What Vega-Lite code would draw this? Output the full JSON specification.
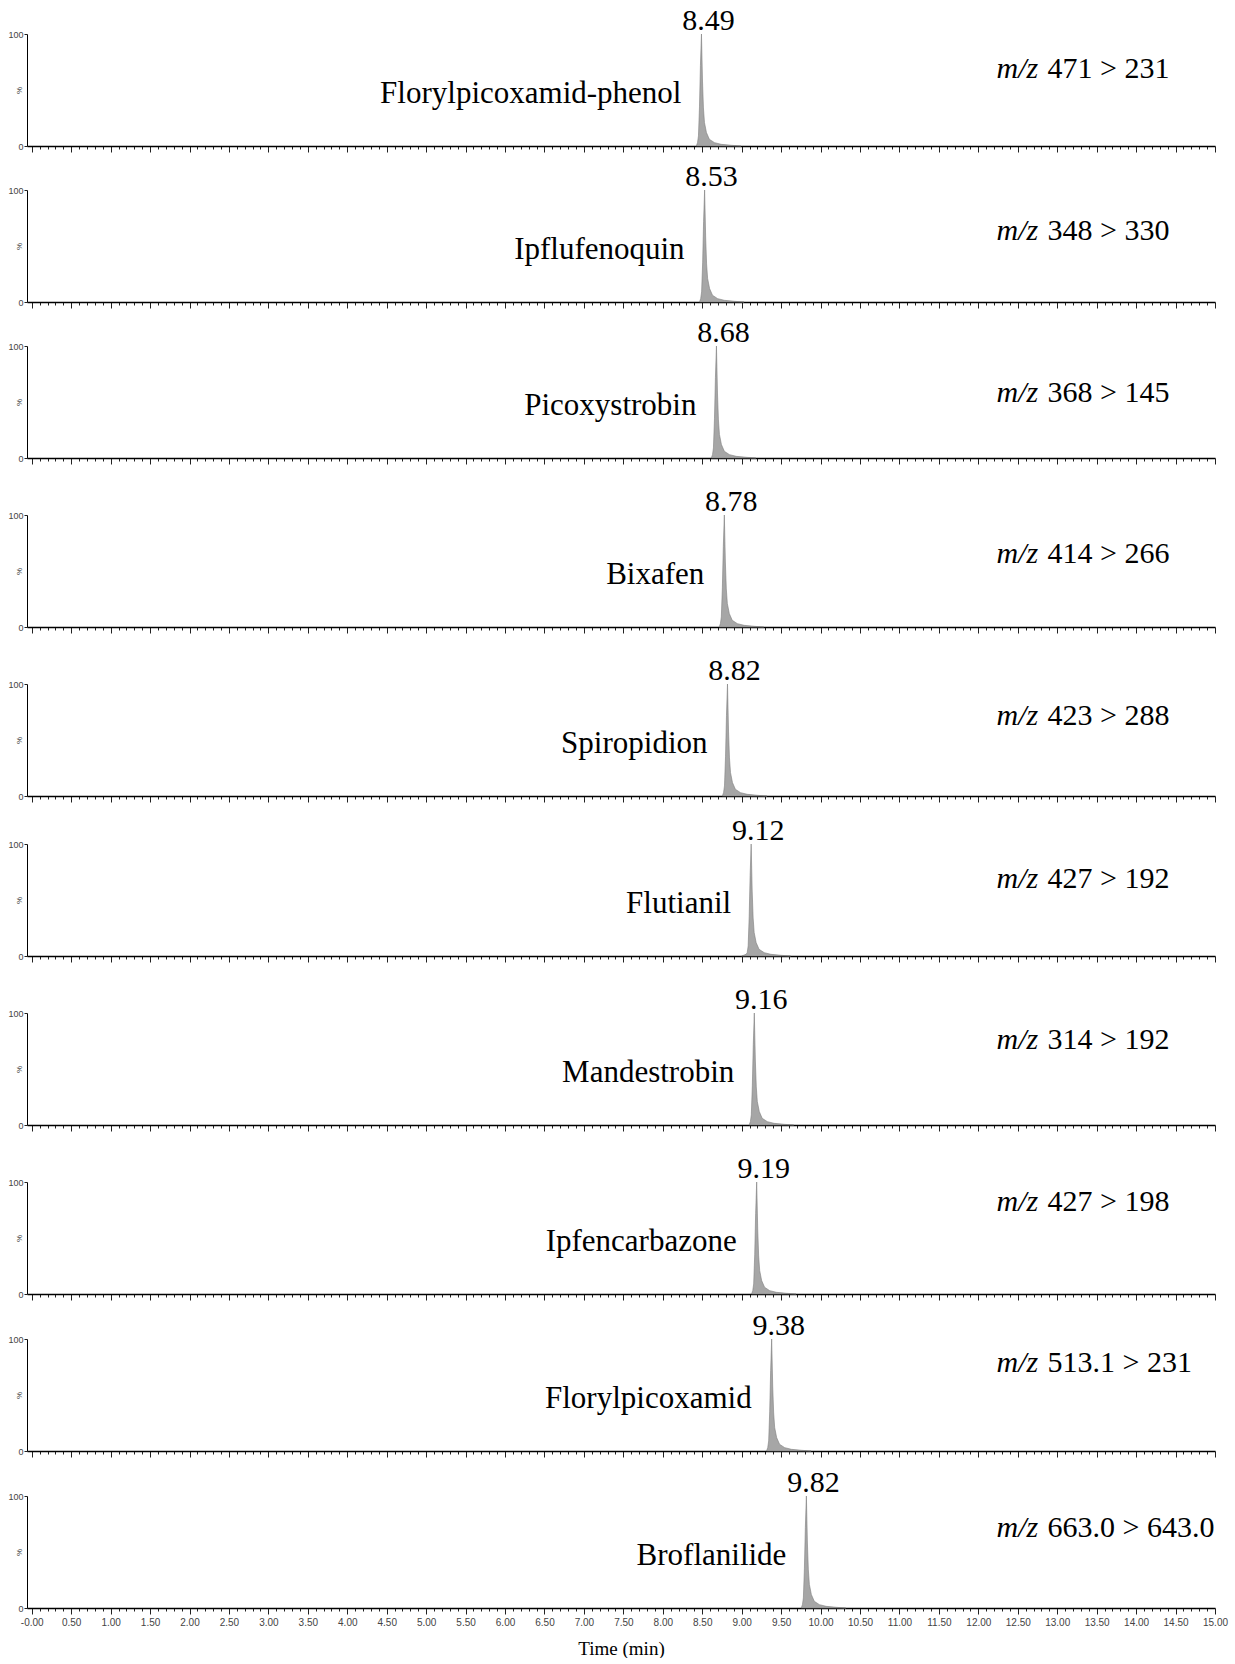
{
"$schema":"https://vega.github.io/schema/vega-lite/v6.json",
"padding":{"left":7,"top":6,"right":5,"bottom":0},
"background":"white",
"config":{"view":{"stroke":null},"axis":{"grid":false,"domainColor":"#000","tickColor":"#222","labelFont":"Liberation Sans","labelColor":"#444","titleFont":"Liberation Sans","titleFontWeight":"normal","titleColor":"#333"}},
"datasets":{
"labels":[
{"id":1,"rt":8.49,"name":"Florylpicoxamid-phenol","mz":"471 > 231"},
{"id":2,"rt":8.53,"name":"Ipflufenoquin","mz":"348 > 330"},
{"id":3,"rt":8.68,"name":"Picoxystrobin","mz":"368 > 145"},
{"id":4,"rt":8.78,"name":"Bixafen","mz":"414 > 266"},
{"id":5,"rt":8.82,"name":"Spiropidion","mz":"423 > 288"},
{"id":6,"rt":9.12,"name":"Flutianil","mz":"427 > 192"},
{"id":7,"rt":9.16,"name":"Mandestrobin","mz":"314 > 192"},
{"id":8,"rt":9.19,"name":"Ipfencarbazone","mz":"427 > 198"},
{"id":9,"rt":9.38,"name":"Florylpicoxamid","mz":"513.1 > 231"},
{"id":10,"rt":9.82,"name":"Broflanilide","mz":"663.0 > 643.0"}
],
"peaks":[
{"id":1,"t":8.425,"i":0},{"id":1,"t":8.44,"i":3},{"id":1,"t":8.452,"i":9},{"id":1,"t":8.465,"i":35},{"id":1,"t":8.477,"i":72},{"id":1,"t":8.49,"i":100},{"id":1,"t":8.503,"i":58},{"id":1,"t":8.515,"i":34},{"id":1,"t":8.528,"i":21},{"id":1,"t":8.553,"i":12},{"id":1,"t":8.59,"i":6},{"id":1,"t":8.655,"i":3},{"id":1,"t":8.74,"i":1.5},{"id":1,"t":8.87,"i":0.6},{"id":1,"t":8.99,"i":0},
{"id":2,"t":8.465,"i":0},{"id":2,"t":8.48,"i":3},{"id":2,"t":8.492,"i":9},{"id":2,"t":8.505,"i":35},{"id":2,"t":8.517,"i":72},{"id":2,"t":8.53,"i":100},{"id":2,"t":8.543,"i":58},{"id":2,"t":8.555,"i":34},{"id":2,"t":8.568,"i":21},{"id":2,"t":8.593,"i":12},{"id":2,"t":8.63,"i":6},{"id":2,"t":8.695,"i":3},{"id":2,"t":8.78,"i":1.5},{"id":2,"t":8.91,"i":0.6},{"id":2,"t":9.03,"i":0},
{"id":3,"t":8.615,"i":0},{"id":3,"t":8.63,"i":3},{"id":3,"t":8.642,"i":9},{"id":3,"t":8.655,"i":35},{"id":3,"t":8.667,"i":72},{"id":3,"t":8.68,"i":100},{"id":3,"t":8.693,"i":58},{"id":3,"t":8.705,"i":34},{"id":3,"t":8.718,"i":21},{"id":3,"t":8.743,"i":12},{"id":3,"t":8.78,"i":6},{"id":3,"t":8.845,"i":3},{"id":3,"t":8.93,"i":1.5},{"id":3,"t":9.06,"i":0.6},{"id":3,"t":9.18,"i":0},
{"id":4,"t":8.715,"i":0},{"id":4,"t":8.73,"i":3},{"id":4,"t":8.742,"i":9},{"id":4,"t":8.755,"i":35},{"id":4,"t":8.767,"i":72},{"id":4,"t":8.78,"i":100},{"id":4,"t":8.793,"i":58},{"id":4,"t":8.805,"i":34},{"id":4,"t":8.818,"i":21},{"id":4,"t":8.843,"i":12},{"id":4,"t":8.88,"i":6},{"id":4,"t":8.945,"i":3},{"id":4,"t":9.03,"i":1.5},{"id":4,"t":9.16,"i":0.6},{"id":4,"t":9.28,"i":0},
{"id":5,"t":8.755,"i":0},{"id":5,"t":8.77,"i":3},{"id":5,"t":8.782,"i":9},{"id":5,"t":8.795,"i":35},{"id":5,"t":8.807,"i":72},{"id":5,"t":8.82,"i":100},{"id":5,"t":8.833,"i":58},{"id":5,"t":8.845,"i":34},{"id":5,"t":8.858,"i":21},{"id":5,"t":8.883,"i":12},{"id":5,"t":8.92,"i":6},{"id":5,"t":8.985,"i":3},{"id":5,"t":9.07,"i":1.5},{"id":5,"t":9.2,"i":0.6},{"id":5,"t":9.32,"i":0},
{"id":6,"t":9.0,"i":0},{"id":6,"t":9.055,"i":1.5},{"id":6,"t":9.07,"i":3},{"id":6,"t":9.082,"i":9},{"id":6,"t":9.095,"i":35},{"id":6,"t":9.107,"i":72},{"id":6,"t":9.12,"i":100},{"id":6,"t":9.133,"i":58},{"id":6,"t":9.145,"i":34},{"id":6,"t":9.158,"i":21},{"id":6,"t":9.183,"i":12},{"id":6,"t":9.22,"i":6},{"id":6,"t":9.285,"i":3},{"id":6,"t":9.37,"i":1.5},{"id":6,"t":9.5,"i":0.6},{"id":6,"t":9.62,"i":0},
{"id":7,"t":9.095,"i":0},{"id":7,"t":9.11,"i":3},{"id":7,"t":9.122,"i":9},{"id":7,"t":9.135,"i":35},{"id":7,"t":9.147,"i":72},{"id":7,"t":9.16,"i":100},{"id":7,"t":9.173,"i":58},{"id":7,"t":9.185,"i":34},{"id":7,"t":9.198,"i":21},{"id":7,"t":9.223,"i":12},{"id":7,"t":9.26,"i":6},{"id":7,"t":9.325,"i":3},{"id":7,"t":9.41,"i":1.5},{"id":7,"t":9.54,"i":0.6},{"id":7,"t":9.66,"i":0},
{"id":8,"t":9.125,"i":0},{"id":8,"t":9.14,"i":3},{"id":8,"t":9.152,"i":9},{"id":8,"t":9.165,"i":35},{"id":8,"t":9.177,"i":72},{"id":8,"t":9.19,"i":100},{"id":8,"t":9.203,"i":58},{"id":8,"t":9.215,"i":34},{"id":8,"t":9.228,"i":21},{"id":8,"t":9.253,"i":12},{"id":8,"t":9.29,"i":6},{"id":8,"t":9.355,"i":3},{"id":8,"t":9.44,"i":1.5},{"id":8,"t":9.57,"i":0.6},{"id":8,"t":9.69,"i":0},
{"id":9,"t":9.315,"i":0},{"id":9,"t":9.33,"i":3},{"id":9,"t":9.342,"i":9},{"id":9,"t":9.355,"i":35},{"id":9,"t":9.367,"i":72},{"id":9,"t":9.38,"i":100},{"id":9,"t":9.393,"i":58},{"id":9,"t":9.405,"i":34},{"id":9,"t":9.418,"i":21},{"id":9,"t":9.443,"i":12},{"id":9,"t":9.48,"i":6},{"id":9,"t":9.545,"i":3},{"id":9,"t":9.63,"i":1.5},{"id":9,"t":9.76,"i":0.6},{"id":9,"t":9.88,"i":0},
{"id":10,"t":9.755,"i":0},{"id":10,"t":9.77,"i":3},{"id":10,"t":9.782,"i":9},{"id":10,"t":9.795,"i":35},{"id":10,"t":9.807,"i":72},{"id":10,"t":9.82,"i":100},{"id":10,"t":9.833,"i":58},{"id":10,"t":9.845,"i":34},{"id":10,"t":9.858,"i":21},{"id":10,"t":9.883,"i":12},{"id":10,"t":9.92,"i":6},{"id":10,"t":9.985,"i":3},{"id":10,"t":10.07,"i":1.5},{"id":10,"t":10.2,"i":0.6},{"id":10,"t":10.32,"i":0}
]},
"spacing":22,
"vconcat":[
{"spacing":9,"vconcat":[
{"width":1188,"height":112,"layer":[
{"data":{"name":"peaks"},"transform":[{"filter":"datum.id==1"}],"mark":{"type":"area","color":"#a6a6a6","stroke":"#7d7d7d","strokeWidth":0.6},"encoding":{"x":{"field":"t","type":"quantitative","scale":{"domain":[-0.06,15],"nice":false,"zero":false},"axis":{"title":null,"tickCount":150,"labels":false,"domainWidth":1.5,"tickSize":{"condition":{"test":"abs(round(datum.value*10)%5)==0","value":6},"value":3}}},"y":{"field":"i","type":"quantitative","scale":{"domain":[0,100],"nice":false},"axis":{"values":[0,100],"title":"%","titleFontSize":8,"titlePadding":-16,"labelFontSize":9,"labelPadding":1,"tickSize":3}}}},
{"data":{"name":"labels"},"transform":[{"filter":"datum.id==1"}],"layer":[
{"mark":{"type":"text","font":"Liberation Serif","fontSize":30,"baseline":"alphabetic","dx":7,"dy":-4},"encoding":{"x":{"field":"rt","type":"quantitative"},"y":{"datum":100,"type":"quantitative"},"text":{"field":"rt","type":"quantitative","format":".2f"}}},
{"mark":{"type":"text","font":"Liberation Serif","fontSize":31,"align":"right","baseline":"middle","dx":-20},"encoding":{"x":{"field":"rt","type":"quantitative"},"y":{"datum":46,"type":"quantitative"},"text":{"field":"name"}}},
{"mark":{"type":"text","font":"Liberation Serif","fontSize":30,"fontStyle":"italic","align":"left","baseline":"middle"},"encoding":{"x":{"datum":12.23,"type":"quantitative"},"y":{"datum":69,"type":"quantitative"},"text":{"value":"m/z"}}},
{"mark":{"type":"text","font":"Liberation Serif","fontSize":30,"align":"left","baseline":"middle","dx":51},"encoding":{"x":{"datum":12.23,"type":"quantitative"},"y":{"datum":69,"type":"quantitative"},"text":{"field":"mz"}}}]}]},
{"width":1188,"height":112,"layer":[
{"data":{"name":"peaks"},"transform":[{"filter":"datum.id==2"}],"mark":{"type":"area","color":"#a6a6a6","stroke":"#7d7d7d","strokeWidth":0.6},"encoding":{"x":{"field":"t","type":"quantitative","scale":{"domain":[-0.06,15],"nice":false,"zero":false},"axis":{"title":null,"tickCount":150,"labels":false,"domainWidth":1.5,"tickSize":{"condition":{"test":"abs(round(datum.value*10)%5)==0","value":6},"value":3}}},"y":{"field":"i","type":"quantitative","scale":{"domain":[0,100],"nice":false},"axis":{"values":[0,100],"title":"%","titleFontSize":8,"titlePadding":-16,"labelFontSize":9,"labelPadding":1,"tickSize":3}}}},
{"data":{"name":"labels"},"transform":[{"filter":"datum.id==2"}],"layer":[
{"mark":{"type":"text","font":"Liberation Serif","fontSize":30,"baseline":"alphabetic","dx":7,"dy":-4},"encoding":{"x":{"field":"rt","type":"quantitative"},"y":{"datum":100,"type":"quantitative"},"text":{"field":"rt","type":"quantitative","format":".2f"}}},
{"mark":{"type":"text","font":"Liberation Serif","fontSize":31,"align":"right","baseline":"middle","dx":-20},"encoding":{"x":{"field":"rt","type":"quantitative"},"y":{"datum":46,"type":"quantitative"},"text":{"field":"name"}}},
{"mark":{"type":"text","font":"Liberation Serif","fontSize":30,"fontStyle":"italic","align":"left","baseline":"middle"},"encoding":{"x":{"datum":12.23,"type":"quantitative"},"y":{"datum":63,"type":"quantitative"},"text":{"value":"m/z"}}},
{"mark":{"type":"text","font":"Liberation Serif","fontSize":30,"align":"left","baseline":"middle","dx":51},"encoding":{"x":{"datum":12.23,"type":"quantitative"},"y":{"datum":63,"type":"quantitative"},"text":{"field":"mz"}}}]}]},
{"width":1188,"height":112,"layer":[
{"data":{"name":"peaks"},"transform":[{"filter":"datum.id==3"}],"mark":{"type":"area","color":"#a6a6a6","stroke":"#7d7d7d","strokeWidth":0.6},"encoding":{"x":{"field":"t","type":"quantitative","scale":{"domain":[-0.06,15],"nice":false,"zero":false},"axis":{"title":null,"tickCount":150,"labels":false,"domainWidth":1.5,"tickSize":{"condition":{"test":"abs(round(datum.value*10)%5)==0","value":6},"value":3}}},"y":{"field":"i","type":"quantitative","scale":{"domain":[0,100],"nice":false},"axis":{"values":[0,100],"title":"%","titleFontSize":8,"titlePadding":-16,"labelFontSize":9,"labelPadding":1,"tickSize":3}}}},
{"data":{"name":"labels"},"transform":[{"filter":"datum.id==3"}],"layer":[
{"mark":{"type":"text","font":"Liberation Serif","fontSize":30,"baseline":"alphabetic","dx":7,"dy":-4},"encoding":{"x":{"field":"rt","type":"quantitative"},"y":{"datum":100,"type":"quantitative"},"text":{"field":"rt","type":"quantitative","format":".2f"}}},
{"mark":{"type":"text","font":"Liberation Serif","fontSize":31,"align":"right","baseline":"middle","dx":-20},"encoding":{"x":{"field":"rt","type":"quantitative"},"y":{"datum":46,"type":"quantitative"},"text":{"field":"name"}}},
{"mark":{"type":"text","font":"Liberation Serif","fontSize":30,"fontStyle":"italic","align":"left","baseline":"middle"},"encoding":{"x":{"datum":12.23,"type":"quantitative"},"y":{"datum":58,"type":"quantitative"},"text":{"value":"m/z"}}},
{"mark":{"type":"text","font":"Liberation Serif","fontSize":30,"align":"left","baseline":"middle","dx":51},"encoding":{"x":{"datum":12.23,"type":"quantitative"},"y":{"datum":58,"type":"quantitative"},"text":{"field":"mz"}}}]}]}
]},
{"width":1188,"height":112,"layer":[
{"data":{"name":"peaks"},"transform":[{"filter":"datum.id==4"}],"mark":{"type":"area","color":"#a6a6a6","stroke":"#7d7d7d","strokeWidth":0.6},"encoding":{"x":{"field":"t","type":"quantitative","scale":{"domain":[-0.06,15],"nice":false,"zero":false},"axis":{"title":null,"tickCount":150,"labels":false,"domainWidth":1.5,"tickSize":{"condition":{"test":"abs(round(datum.value*10)%5)==0","value":6},"value":3}}},"y":{"field":"i","type":"quantitative","scale":{"domain":[0,100],"nice":false},"axis":{"values":[0,100],"title":"%","titleFontSize":8,"titlePadding":-16,"labelFontSize":9,"labelPadding":1,"tickSize":3}}}},
{"data":{"name":"labels"},"transform":[{"filter":"datum.id==4"}],"layer":[
{"mark":{"type":"text","font":"Liberation Serif","fontSize":30,"baseline":"alphabetic","dx":7,"dy":-4},"encoding":{"x":{"field":"rt","type":"quantitative"},"y":{"datum":100,"type":"quantitative"},"text":{"field":"rt","type":"quantitative","format":".2f"}}},
{"mark":{"type":"text","font":"Liberation Serif","fontSize":31,"align":"right","baseline":"middle","dx":-20},"encoding":{"x":{"field":"rt","type":"quantitative"},"y":{"datum":46,"type":"quantitative"},"text":{"field":"name"}}},
{"mark":{"type":"text","font":"Liberation Serif","fontSize":30,"fontStyle":"italic","align":"left","baseline":"middle"},"encoding":{"x":{"datum":12.23,"type":"quantitative"},"y":{"datum":65,"type":"quantitative"},"text":{"value":"m/z"}}},
{"mark":{"type":"text","font":"Liberation Serif","fontSize":30,"align":"left","baseline":"middle","dx":51},"encoding":{"x":{"datum":12.23,"type":"quantitative"},"y":{"datum":65,"type":"quantitative"},"text":{"field":"mz"}}}]}]},
{"spacing":13,"vconcat":[
{"width":1188,"height":112,"layer":[
{"data":{"name":"peaks"},"transform":[{"filter":"datum.id==5"}],"mark":{"type":"area","color":"#a6a6a6","stroke":"#7d7d7d","strokeWidth":0.6},"encoding":{"x":{"field":"t","type":"quantitative","scale":{"domain":[-0.06,15],"nice":false,"zero":false},"axis":{"title":null,"tickCount":150,"labels":false,"domainWidth":1.5,"tickSize":{"condition":{"test":"abs(round(datum.value*10)%5)==0","value":6},"value":3}}},"y":{"field":"i","type":"quantitative","scale":{"domain":[0,100],"nice":false},"axis":{"values":[0,100],"title":"%","titleFontSize":8,"titlePadding":-16,"labelFontSize":9,"labelPadding":1,"tickSize":3}}}},
{"data":{"name":"labels"},"transform":[{"filter":"datum.id==5"}],"layer":[
{"mark":{"type":"text","font":"Liberation Serif","fontSize":30,"baseline":"alphabetic","dx":7,"dy":-4},"encoding":{"x":{"field":"rt","type":"quantitative"},"y":{"datum":100,"type":"quantitative"},"text":{"field":"rt","type":"quantitative","format":".2f"}}},
{"mark":{"type":"text","font":"Liberation Serif","fontSize":31,"align":"right","baseline":"middle","dx":-20},"encoding":{"x":{"field":"rt","type":"quantitative"},"y":{"datum":46,"type":"quantitative"},"text":{"field":"name"}}},
{"mark":{"type":"text","font":"Liberation Serif","fontSize":30,"fontStyle":"italic","align":"left","baseline":"middle"},"encoding":{"x":{"datum":12.23,"type":"quantitative"},"y":{"datum":71,"type":"quantitative"},"text":{"value":"m/z"}}},
{"mark":{"type":"text","font":"Liberation Serif","fontSize":30,"align":"left","baseline":"middle","dx":51},"encoding":{"x":{"datum":12.23,"type":"quantitative"},"y":{"datum":71,"type":"quantitative"},"text":{"field":"mz"}}}]}]},
{"width":1188,"height":112,"layer":[
{"data":{"name":"peaks"},"transform":[{"filter":"datum.id==6"}],"mark":{"type":"area","color":"#a6a6a6","stroke":"#7d7d7d","strokeWidth":0.6},"encoding":{"x":{"field":"t","type":"quantitative","scale":{"domain":[-0.06,15],"nice":false,"zero":false},"axis":{"title":null,"tickCount":150,"labels":false,"domainWidth":1.5,"tickSize":{"condition":{"test":"abs(round(datum.value*10)%5)==0","value":6},"value":3}}},"y":{"field":"i","type":"quantitative","scale":{"domain":[0,100],"nice":false},"axis":{"values":[0,100],"title":"%","titleFontSize":8,"titlePadding":-16,"labelFontSize":9,"labelPadding":1,"tickSize":3}}}},
{"data":{"name":"labels"},"transform":[{"filter":"datum.id==6"}],"layer":[
{"mark":{"type":"text","font":"Liberation Serif","fontSize":30,"baseline":"alphabetic","dx":7,"dy":-4},"encoding":{"x":{"field":"rt","type":"quantitative"},"y":{"datum":100,"type":"quantitative"},"text":{"field":"rt","type":"quantitative","format":".2f"}}},
{"mark":{"type":"text","font":"Liberation Serif","fontSize":31,"align":"right","baseline":"middle","dx":-20},"encoding":{"x":{"field":"rt","type":"quantitative"},"y":{"datum":46,"type":"quantitative"},"text":{"field":"name"}}},
{"mark":{"type":"text","font":"Liberation Serif","fontSize":30,"fontStyle":"italic","align":"left","baseline":"middle"},"encoding":{"x":{"datum":12.23,"type":"quantitative"},"y":{"datum":69,"type":"quantitative"},"text":{"value":"m/z"}}},
{"mark":{"type":"text","font":"Liberation Serif","fontSize":30,"align":"left","baseline":"middle","dx":51},"encoding":{"x":{"datum":12.23,"type":"quantitative"},"y":{"datum":69,"type":"quantitative"},"text":{"field":"mz"}}}]}]}
]},
{"width":1188,"height":112,"layer":[
{"data":{"name":"peaks"},"transform":[{"filter":"datum.id==7"}],"mark":{"type":"area","color":"#a6a6a6","stroke":"#7d7d7d","strokeWidth":0.6},"encoding":{"x":{"field":"t","type":"quantitative","scale":{"domain":[-0.06,15],"nice":false,"zero":false},"axis":{"title":null,"tickCount":150,"labels":false,"domainWidth":1.5,"tickSize":{"condition":{"test":"abs(round(datum.value*10)%5)==0","value":6},"value":3}}},"y":{"field":"i","type":"quantitative","scale":{"domain":[0,100],"nice":false},"axis":{"values":[0,100],"title":"%","titleFontSize":8,"titlePadding":-16,"labelFontSize":9,"labelPadding":1,"tickSize":3}}}},
{"data":{"name":"labels"},"transform":[{"filter":"datum.id==7"}],"layer":[
{"mark":{"type":"text","font":"Liberation Serif","fontSize":30,"baseline":"alphabetic","dx":7,"dy":-4},"encoding":{"x":{"field":"rt","type":"quantitative"},"y":{"datum":100,"type":"quantitative"},"text":{"field":"rt","type":"quantitative","format":".2f"}}},
{"mark":{"type":"text","font":"Liberation Serif","fontSize":31,"align":"right","baseline":"middle","dx":-20},"encoding":{"x":{"field":"rt","type":"quantitative"},"y":{"datum":46,"type":"quantitative"},"text":{"field":"name"}}},
{"mark":{"type":"text","font":"Liberation Serif","fontSize":30,"fontStyle":"italic","align":"left","baseline":"middle"},"encoding":{"x":{"datum":12.23,"type":"quantitative"},"y":{"datum":76,"type":"quantitative"},"text":{"value":"m/z"}}},
{"mark":{"type":"text","font":"Liberation Serif","fontSize":30,"align":"left","baseline":"middle","dx":51},"encoding":{"x":{"datum":12.23,"type":"quantitative"},"y":{"datum":76,"type":"quantitative"},"text":{"field":"mz"}}}]}]},
{"spacing":10,"vconcat":[
{"width":1188,"height":112,"layer":[
{"data":{"name":"peaks"},"transform":[{"filter":"datum.id==8"}],"mark":{"type":"area","color":"#a6a6a6","stroke":"#7d7d7d","strokeWidth":0.6},"encoding":{"x":{"field":"t","type":"quantitative","scale":{"domain":[-0.06,15],"nice":false,"zero":false},"axis":{"title":null,"tickCount":150,"labels":false,"domainWidth":1.5,"tickSize":{"condition":{"test":"abs(round(datum.value*10)%5)==0","value":6},"value":3}}},"y":{"field":"i","type":"quantitative","scale":{"domain":[0,100],"nice":false},"axis":{"values":[0,100],"title":"%","titleFontSize":8,"titlePadding":-16,"labelFontSize":9,"labelPadding":1,"tickSize":3}}}},
{"data":{"name":"labels"},"transform":[{"filter":"datum.id==8"}],"layer":[
{"mark":{"type":"text","font":"Liberation Serif","fontSize":30,"baseline":"alphabetic","dx":7,"dy":-4},"encoding":{"x":{"field":"rt","type":"quantitative"},"y":{"datum":100,"type":"quantitative"},"text":{"field":"rt","type":"quantitative","format":".2f"}}},
{"mark":{"type":"text","font":"Liberation Serif","fontSize":31,"align":"right","baseline":"middle","dx":-20},"encoding":{"x":{"field":"rt","type":"quantitative"},"y":{"datum":46,"type":"quantitative"},"text":{"field":"name"}}},
{"mark":{"type":"text","font":"Liberation Serif","fontSize":30,"fontStyle":"italic","align":"left","baseline":"middle"},"encoding":{"x":{"datum":12.23,"type":"quantitative"},"y":{"datum":82,"type":"quantitative"},"text":{"value":"m/z"}}},
{"mark":{"type":"text","font":"Liberation Serif","fontSize":30,"align":"left","baseline":"middle","dx":51},"encoding":{"x":{"datum":12.23,"type":"quantitative"},"y":{"datum":82,"type":"quantitative"},"text":{"field":"mz"}}}]}]},
{"width":1188,"height":112,"layer":[
{"data":{"name":"peaks"},"transform":[{"filter":"datum.id==9"}],"mark":{"type":"area","color":"#a6a6a6","stroke":"#7d7d7d","strokeWidth":0.6},"encoding":{"x":{"field":"t","type":"quantitative","scale":{"domain":[-0.06,15],"nice":false,"zero":false},"axis":{"title":null,"tickCount":150,"labels":false,"domainWidth":1.5,"tickSize":{"condition":{"test":"abs(round(datum.value*10)%5)==0","value":6},"value":3}}},"y":{"field":"i","type":"quantitative","scale":{"domain":[0,100],"nice":false},"axis":{"values":[0,100],"title":"%","titleFontSize":8,"titlePadding":-16,"labelFontSize":9,"labelPadding":1,"tickSize":3}}}},
{"data":{"name":"labels"},"transform":[{"filter":"datum.id==9"}],"layer":[
{"mark":{"type":"text","font":"Liberation Serif","fontSize":30,"baseline":"alphabetic","dx":7,"dy":-4},"encoding":{"x":{"field":"rt","type":"quantitative"},"y":{"datum":100,"type":"quantitative"},"text":{"field":"rt","type":"quantitative","format":".2f"}}},
{"mark":{"type":"text","font":"Liberation Serif","fontSize":31,"align":"right","baseline":"middle","dx":-20},"encoding":{"x":{"field":"rt","type":"quantitative"},"y":{"datum":46,"type":"quantitative"},"text":{"field":"name"}}},
{"mark":{"type":"text","font":"Liberation Serif","fontSize":30,"fontStyle":"italic","align":"left","baseline":"middle"},"encoding":{"x":{"datum":12.23,"type":"quantitative"},"y":{"datum":79,"type":"quantitative"},"text":{"value":"m/z"}}},
{"mark":{"type":"text","font":"Liberation Serif","fontSize":30,"align":"left","baseline":"middle","dx":51},"encoding":{"x":{"datum":12.23,"type":"quantitative"},"y":{"datum":79,"type":"quantitative"},"text":{"field":"mz"}}}]}]},
{"width":1188,"height":112,"layer":[
{"data":{"name":"peaks"},"transform":[{"filter":"datum.id==10"}],"mark":{"type":"area","color":"#a6a6a6","stroke":"#7d7d7d","strokeWidth":0.6},"encoding":{"x":{"field":"t","type":"quantitative","scale":{"domain":[-0.06,15],"nice":false,"zero":false},"axis":{"title":"Time (min)","titleFont":"Liberation Serif","titleFontSize":19,"titleColor":"#000","titlePadding":12,"tickCount":150,"labelOverlap":false,"labelBound":false,"labelFlush":false,"labelFontSize":10,"labelPadding":3,"labelExpr":"abs(round(datum.value*10)%5)==0 ? (datum.value==0 ? '-0.00' : format(datum.value,'.2f')) : ''","domainWidth":1.5,"tickSize":{"condition":{"test":"abs(round(datum.value*10)%5)==0","value":6},"value":3}}},"y":{"field":"i","type":"quantitative","scale":{"domain":[0,100],"nice":false},"axis":{"values":[0,100],"title":"%","titleFontSize":8,"titlePadding":-16,"labelFontSize":9,"labelPadding":1,"tickSize":3}}}},
{"data":{"name":"labels"},"transform":[{"filter":"datum.id==10"}],"layer":[
{"mark":{"type":"text","font":"Liberation Serif","fontSize":30,"baseline":"alphabetic","dx":7,"dy":-4},"encoding":{"x":{"field":"rt","type":"quantitative"},"y":{"datum":100,"type":"quantitative"},"text":{"field":"rt","type":"quantitative","format":".2f"}}},
{"mark":{"type":"text","font":"Liberation Serif","fontSize":31,"align":"right","baseline":"middle","dx":-20},"encoding":{"x":{"field":"rt","type":"quantitative"},"y":{"datum":46,"type":"quantitative"},"text":{"field":"name"}}},
{"mark":{"type":"text","font":"Liberation Serif","fontSize":30,"fontStyle":"italic","align":"left","baseline":"middle"},"encoding":{"x":{"datum":12.23,"type":"quantitative"},"y":{"datum":71,"type":"quantitative"},"text":{"value":"m/z"}}},
{"mark":{"type":"text","font":"Liberation Serif","fontSize":30,"align":"left","baseline":"middle","dx":51},"encoding":{"x":{"datum":12.23,"type":"quantitative"},"y":{"datum":71,"type":"quantitative"},"text":{"field":"mz"}}}]}]}
]}
]
}
